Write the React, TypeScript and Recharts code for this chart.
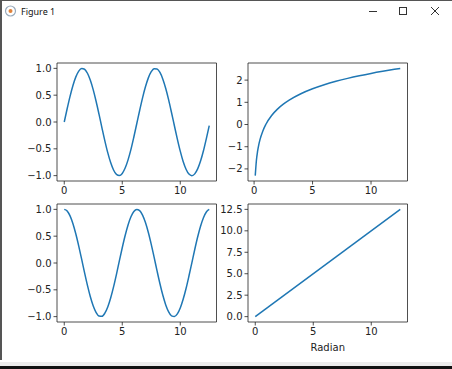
import * as React from 'react'
import { LineChart, Line, XAxis, YAxis, ReferenceArea, Label } from 'recharts'

// sampled x positions (radians)
const xs = [
  0, 0.25, 0.5, 0.75, 1, 1.25, 1.5, 1.75, 2, 2.25, 2.5, 2.75, 3, 3.25, 3.5, 3.75, 4, 4.25, 4.5, 4.75, 5,
  5.25, 5.5, 5.75, 6, 6.25, 6.5, 6.75, 7, 7.25, 7.5, 7.75, 8, 8.25, 8.5, 8.75, 9, 9.25, 9.5, 9.75, 10,
  10.25, 10.5, 10.75, 11, 11.25, 11.5, 11.75, 12, 12.25, 12.5,
]

const sinValues = [
  0, 0.247, 0.479, 0.682, 0.841, 0.949, 0.997, 0.984, 0.909, 0.778, 0.598, 0.382, 0.141, -0.108, -0.351,
  -0.572, -0.757, -0.895, -0.978, -0.999, -0.959, -0.859, -0.706, -0.51, -0.279, -0.033, 0.215, 0.451,
  0.657, 0.823, 0.938, 0.995, 0.989, 0.923, 0.798, 0.624, 0.412, 0.173, -0.075, -0.319, -0.544, -0.736,
  -0.88, -0.971, -1.0, -0.967, -0.875, -0.729, -0.537, -0.309, -0.066,
]

const cosValues = [
  1, 0.969, 0.878, 0.732, 0.54, 0.315, 0.071, -0.178, -0.416, -0.628, -0.801, -0.924, -0.99, -0.994,
  -0.936, -0.821, -0.654, -0.446, -0.211, 0.038, 0.284, 0.512, 0.709, 0.861, 0.96, 0.999, 0.977, 0.893,
  0.754, 0.568, 0.347, 0.104, -0.146, -0.386, -0.602, -0.781, -0.911, -0.985, -0.997, -0.948, -0.839,
  -0.677, -0.476, -0.243, 0.004, 0.252, 0.484, 0.685, 0.844, 0.951, 0.998,
]

const logX = [0.1, 0.2, 0.3, 0.4, 0.5, 0.75, 1, 1.5, 2, 2.5, 3, 4, 5, 6, 7, 8, 9, 10, 11, 12, 12.5]
const logValues = [
  -2.303, -1.609, -1.204, -0.916, -0.693, -0.288, 0, 0.405, 0.693, 0.916, 1.099, 1.386, 1.609, 1.792,
  1.946, 2.079, 2.197, 2.303, 2.398, 2.485, 2.526,
]

const linX = [0, 12.5]
const linValues = [0, 12.5]

const xTicks = [0, 5, 10]
const trigTicks = [-1, -0.5, 0, 0.5, 1]
const logTicks = [-2, -1, 0, 1, 2]
const linTicks = [0, 2.5, 5, 7.5, 10, 12.5]

const sinData = xs.map((x, i) => ({ x, y: sinValues[i] }))
const cosData = xs.map((x, i) => ({ x, y: cosValues[i] }))
const logData = logX.map((x, i) => ({ x, y: logValues[i] }))
const linData = linX.map((x, i) => ({ x, y: linValues[i] }))

const BLUE = '#1f77b4'
const INK = '#222'
const FONT = 'DejaVu Sans, sans-serif'
const AX_W = 159.5
const AX_H = 118
const Y_W = 45

const minus = (s: string) => s.replace('-', '\u2212')

interface PanelProps {
  left: number
  top: number
  data: { x: number; y: number }[]
  xDomain: [number, number]
  yDomain: [number, number]
  yTicks: number[]
  fmt: (v: number) => string
  curve: 'monotone' | 'linear'
  xLabel?: string
}

function Panel({ left, top, data, xDomain, yDomain, yTicks, fmt, curve, xLabel }: PanelProps) {
  const xh = xLabel ? 42 : 25
  const tick = { fill: INK, fontSize: 10, fontFamily: FONT }
  return (
    <div style={{ position: 'absolute', left: left - Y_W, top: top - 5 }}>
      <LineChart
        width={AX_W + Y_W + 10}
        height={AX_H + 5 + xh}
        data={data}
        margin={{ top: 5, right: 10, bottom: 0, left: 0 }}
      >
        <XAxis
          type="number"
          dataKey="x"
          domain={xDomain}
          ticks={xTicks}
          allowDataOverflow
          height={xh}
          axisLine={false}
          tickLine={{ stroke: INK, strokeWidth: 0.8 }}
          tickSize={3.5}
          tickMargin={2}
          tick={tick}
        >
          {xLabel && (
            <Label value={xLabel} position="insideBottom" offset={13} fill={INK} fontSize={10} fontFamily={FONT} />
          )}
        </XAxis>
        <YAxis
          type="number"
          dataKey="y"
          domain={yDomain}
          ticks={yTicks}
          allowDataOverflow
          width={Y_W}
          axisLine={false}
          tickLine={{ stroke: INK, strokeWidth: 0.8 }}
          tickSize={3.5}
          tickMargin={2}
          tick={tick}
          tickFormatter={(v: number) => minus(fmt(v))}
        />
        <Line
          type={curve}
          dataKey="y"
          stroke={BLUE}
          strokeWidth={1.5}
          dot={false}
          isAnimationActive={false}
        />
        <ReferenceArea
          x1={xDomain[0]}
          x2={xDomain[1]}
          y1={yDomain[0]}
          y2={yDomain[1]}
          fill="none"
          stroke={INK}
          strokeWidth={0.8}
          ifOverflow="visible"
        />
      </LineChart>
    </div>
  )
}

export default function App() {
  const trigX: [number, number] = [-0.625, 13.125]
  return (
    <div
      style={{
        position: 'fixed',
        left: 0,
        top: 0,
        width: 452,
        height: 369,
        background: '#fff',
        overflow: 'hidden',
        fontFamily: FONT,
      }}
    >
      {/* window chrome */}
      <div style={{ position: 'absolute', left: 0, top: 0, width: 452, height: 1, background: '#555' }} />
      <div style={{ position: 'absolute', left: 0, top: 0, width: 1.5, height: 360, background: '#555' }} />
      <div style={{ position: 'absolute', left: 0, top: 362, width: 452, height: 4, background: '#ececec' }} />
      <div style={{ position: 'absolute', left: 0, top: 366, width: 452, height: 3, background: '#111' }} />
      <svg style={{ position: 'absolute', left: 0, top: 0 }} width={452} height={24}>
        <circle cx={10.5} cy={11} r={5} fill="none" stroke="#9ab" strokeWidth={1.2} />
        <circle cx={10.5} cy={11} r={2} fill="#e0823a" />
        <text x={21} y={14.5} fontSize={9} fontFamily="Noto Sans, sans-serif" fill="#111">
          Figure 1
        </text>
        <line x1={369} y1={11.5} x2={377} y2={11.5} stroke="#333" strokeWidth={1} />
        <rect x={399.5} y={7.5} width={7} height={7} fill="none" stroke="#333" strokeWidth={1} />
        <line x1={431} y1={7} x2={439} y2={15} stroke="#333" strokeWidth={1} />
        <line x1={439} y1={7} x2={431} y2={15} stroke="#333" strokeWidth={1} />
      </svg>

      <Panel
        left={56.6}
        top={62.5}
        data={sinData}
        xDomain={trigX}
        yDomain={[-1.1, 1.1]}
        yTicks={trigTicks}
        fmt={(v) => v.toFixed(1)}
        curve="monotone"
      />
      <Panel
        left={248}
        top={62.5}
        data={logData}
        xDomain={[-0.52, 13.12]}
        yDomain={[-2.545, 2.7715]}
        yTicks={logTicks}
        fmt={(v) => String(v)}
        curve="monotone"
      />
      <Panel
        left={56.6}
        top={204}
        data={cosData}
        xDomain={trigX}
        yDomain={[-1.1, 1.1]}
        yTicks={trigTicks}
        fmt={(v) => v.toFixed(1)}
        curve="monotone"
      />
      <Panel
        left={248}
        top={204}
        data={linData}
        xDomain={trigX}
        yDomain={trigX}
        yTicks={linTicks}
        fmt={(v) => v.toFixed(1)}
        curve="linear"
        xLabel="Radian"
      />
    </div>
  )
}
